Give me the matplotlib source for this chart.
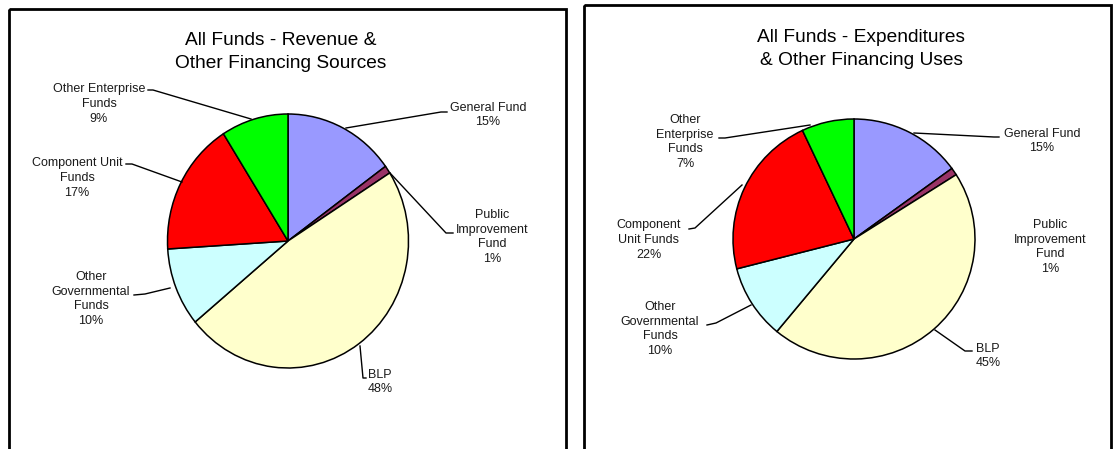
import matplotlib
matplotlib.use("Agg")
import matplotlib.pyplot as plt
from matplotlib.patches import Rectangle

plt.rcParams['font.family'] = ['Liberation Sans', 'DejaVu Sans']

# ---- data ----
categories = ["General Fund", "Public\nImprovement\nFund", "BLP",
              "Other\nGovernmental\nFunds", "Component Unit\nFunds",
              "Other Enterprise\nFunds"]
revenue_pct = [15, 1, 48, 10, 17, 9]
expend_pct = [15, 1, 45, 10, 22, 7]
colors = ["#9999FF", "#993366", "#FFFFCC", "#CCFFFF", "#FF0000", "#00FF00"]
titles = ["All Funds - Revenue &\nOther Financing Sources",
          "All Funds - Expenditures\n& Other Financing Uses"]
right_labels = ["General Fund", "Public\nImprovement\nFund", "BLP",
                "Other\nGovernmental\nFunds", "Component\nUnit Funds",
                "Other\nEnterprise\nFunds"]

W, H = 1115, 449
fig = plt.figure(figsize=(W / 100, H / 100), dpi=100)
fig.patch.set_facecolor("white")


def pie_axes(cx, cy, rx, ry):
    # cx, cy in image pixels (y from top)
    yb = H - cy
    return fig.add_axes([(cx - rx) / W, (yb - ry) / H, 2 * rx / W, 2 * ry / H])


for (cx, cy, rx, ry), vals in [((288, 241, 120.5, 127), revenue_pct),
                               ((854, 239, 121, 120), expend_pct)]:
    a = pie_axes(cx, cy, rx, ry)
    a.pie(vals, colors=colors, startangle=90, counterclock=False, radius=1,
          wedgeprops=dict(edgecolor="black", linewidth=1.1))
    a.set_aspect("auto")
    a.set_xlim(-1, 1)
    a.set_ylim(-1, 1)
    a.axis("off")

ov = fig.add_axes([0, 0, 1, 1], zorder=5)
ov.set_xlim(0, W)
ov.set_ylim(H, 0)
ov.axis("off")

# panel borders
ov.add_patch(Rectangle((9, 9), 557, 460, fill=False, edgecolor="black",
                       linewidth=2.0, clip_on=False))
ov.add_patch(Rectangle((584, 5), 527, 470, fill=False, edgecolor="black",
                       linewidth=2.0, clip_on=False))

# titles
ov.text(281, 52, titles[0], ha="center", va="center", fontsize=13.8,
        linespacing=1.42, color="black")
ov.text(861, 49, titles[1], ha="center", va="center", fontsize=13.8,
        linespacing=1.42, color="black")

lab_kw = dict(ha="center", va="center", fontsize=9, linespacing=1.32,
              multialignment="center", color="#1a1a1a")

# left chart labels: (x, y) centers
left_pos = [(488, 115), (492, 237), (380, 382), (91, 299), (77, 178), (99, 104)]
for lab, v, (x, y) in zip(categories, revenue_pct, left_pos):
    ov.text(x, y, f"{lab}\n{v}%", **lab_kw)

right_pos = [(1042, 141), (1050, 247), (988, 356), (660, 329), (649, 240), (685, 142)]
for lab, v, (x, y) in zip(right_labels, expend_pct, right_pos):
    ov.text(x, y, f"{lab}\n{v}%", **lab_kw)

# leader lines
leaders = [
    [(346, 128), (441, 112), (447, 112)],
    [(390, 173), (446, 233), (453, 233)],
    [(360, 346), (363, 378), (366, 378)],
    [(134, 295), (145, 294), (170, 288)],
    [(126, 164), (132, 164), (182, 182)],
    [(148, 90), (153, 90), (251, 119)],
    [(914, 133), (994, 137), (999, 137)],
    [(935, 330), (965, 351), (972, 351)],
    [(707, 325), (716, 323), (751, 305)],
    [(689, 229), (695, 228), (742, 185)],
    [(719, 138), (725, 138), (810, 125)],
]
for pts in leaders:
    xs, ys = zip(*pts)
    ov.plot(xs, ys, color="black", linewidth=1.0)

fig.savefig("out.png", dpi=100, facecolor="white")
